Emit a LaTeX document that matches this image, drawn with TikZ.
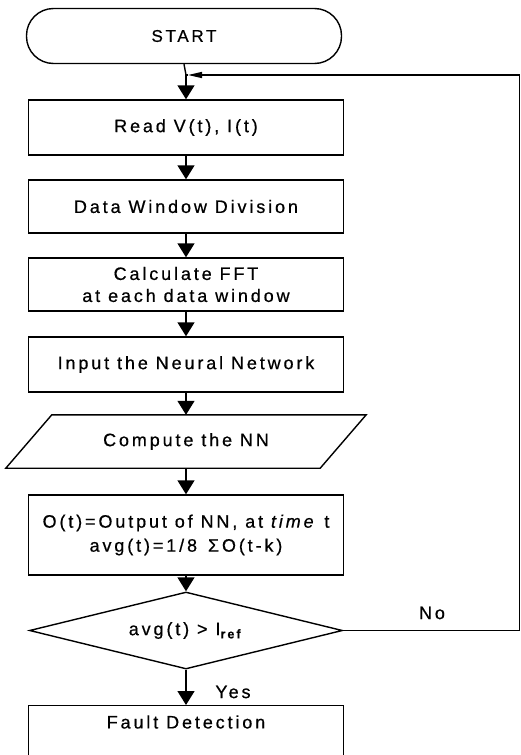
\documentclass[tikz,border=0pt]{standalone}
\usepackage{fontspec}
\setmainfont{Liberation Sans}[LetterSpace=16,FakeBold=0.6]
\usetikzlibrary{arrows.meta,shapes.geometric}
\begin{document}
\begin{tikzpicture}[x=1pt,y=-1pt,
  line/.style={line width=1.4pt},
  arr/.style={line width=1.4pt,-{Triangle[width=17pt,length=14pt]}},
  txt/.style={font=\fontsize{18}{24}\selectfont,inner sep=0pt},
  box/.style={draw,line width=1.4pt,minimum width=315pt,minimum height=55pt,inner sep=0pt,align=center,font=\fontsize{18}{22}\selectfont},
  term/.style={box,rounded corners=27pt},
  para/.style={minimum width=314pt,minimum height=53pt,inner sep=0pt,font=\fontsize{18}{22}\selectfont},
  dia/.style={diamond,draw,line width=1.4pt,aspect=4,minimum width=313pt,minimum height=77pt,inner sep=0pt,font=\fontsize{18}{22}\selectfont}
]
\useasboundingbox (0,0) rectangle (521,755);
\clip (0,0) rectangle (521,755);
\fill[white] (0,0) rectangle (521,755);

\node[term,font=\fontsize{17}{22}\selectfont] (start) at (184,36) {START};
\coordinate (j) at (186,75);
\node[box] (read) at (186,127.5) {Read V(t), I(t)};
\node[box,minimum height=53pt] (dwd) at (186,206.5) {Data Window Division};
\node[box,minimum height=53pt] (fft) at (186,284.5) {Calculate FFT\\at each data window};
\node[box] (inn) at (186,364.5) {Input the Neural Network};
\node[para] (cnn) at (186,441.5) {Compute the NN};
\draw[line] ([xshift=23pt]cnn.north west) -- ([xshift=23pt]cnn.north east) -- ([xshift=-23pt]cnn.south east) -- ([xshift=-23pt]cnn.south west) -- cycle;
\node[box,minimum height=80pt,font=\fontsize{18}{24}\selectfont] (out) at (186,535) {O(t)=Output of NN, at \textit{time} t\\avg(t)=1/8 \,ΣO(t-k)};
\node[dia] (dec) at (186,630.5) {avg(t) > I\textsubscript{\textbf{ref}}};
\node[box,minimum height=100pt,anchor=north] (fault) at (186,705) {};
\node[txt] (faultlbl) at (186,722) {Fault Detection};

\coordinate (rc) at (519.5,630.5);
\coordinate (rt) at (519.5,75);

\draw[line] (start.south) -- (j);
\draw[arr] (j) -- (read.north);
\draw[arr] (read) -- (dwd);
\draw[arr] (dwd) -- (fft);
\draw[arr] (fft) -- (inn);
\draw[arr] (inn) -- (cnn);
\draw[arr] (cnn) -- (out);
\draw[arr] (out) -- (dec);
\draw[arr] (dec.south) -- (fault.north);
\draw[line] (dec.east) -- (rc) -- (rt) -- ([xshift=20pt]j);
\draw[line,-{Triangle[width=6pt,length=14pt]}] ([xshift=20pt]j) -- ([xshift=2pt]j);
\draw[line] ([xshift=2pt]j) -- (j);

\node[txt] (no) at (432,613) {No};
\node[txt] (yes) at (233,692) {Yes};
\end{tikzpicture}
\end{document}
